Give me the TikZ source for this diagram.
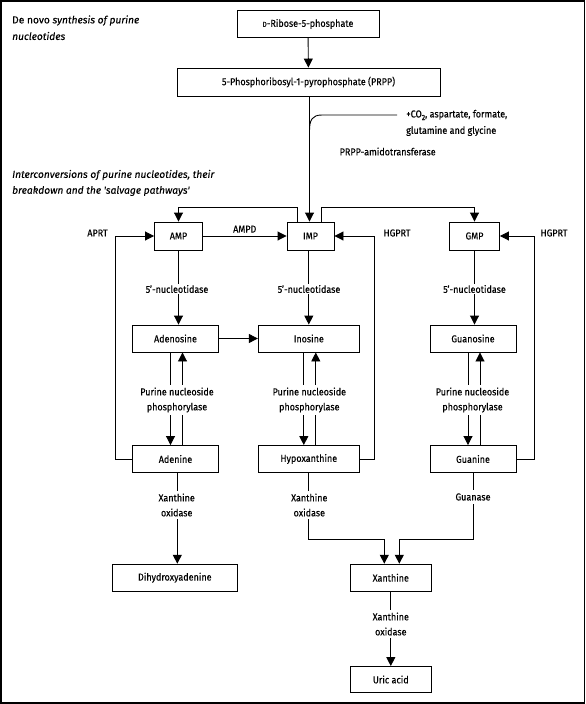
\documentclass[tikz,border=0pt]{standalone}
\usepackage{fontspec}
\setmainfont[FakeStretch=0.9,FakeBold=0.25]{Fira Sans}
\newfontfamily\hdfont[FakeBold=0.1]{Fira Sans}
\usetikzlibrary{arrows.meta}
\begin{document}
\begin{tikzpicture}[x=1pt,y=-1pt,
  every node/.style={font=\fontsize{10}{15}\selectfont},
  box/.style={draw, line width=0.9pt, inner sep=0pt, align=center},
  lab/.style={fill=white, inner sep=1.5pt, align=center},
  plain/.style={inner sep=0pt, align=left, anchor=west},
  hd/.style={plain, font=\hdfont\fontsize{10.2}{16}\selectfont},
  ln/.style={line width=0.9pt},
  arr/.style={line width=0.9pt, -{Triangle[length=9pt,width=9pt]}}]
\useasboundingbox (0,0) rectangle (586,704);
\draw[line width=1.6pt] (1,1) rectangle (584.5,703);

% texts
\node[hd] (t1) at (12,20.5) {De novo \textit{synthesis of purine}};
\node[hd] (t2) at (12,36) {\textit{nucleotides}};
\node[hd] (t3) at (12,175) {\textit{Interconversions of purine nucleotides, their}};
\node[hd] (t4) at (12,191) {\textit{breakdown and the 'salvage pathways'}};

% boxes
\node[box, minimum width=142pt, minimum height=27pt] (ribose) at (308,24) {{\fontsize{7.2}{8}\selectfont D}-Ribose-5-phosphate};
\node[box, minimum width=263pt, minimum height=28pt] (prpp) at (308.5,82) {5-Phosphoribosyl-1-pyrophosphate (PRPP)};
\node[box, minimum width=48pt, minimum height=28pt] (amp) at (178.5,236) {AMP};
\node[box, minimum width=47pt, minimum height=28pt] (imp) at (310.5,236) {IMP};
\node[box, minimum width=50pt, minimum height=28pt] (gmp) at (474.5,236) {GMP};
\node[box, minimum width=86pt, minimum height=27pt] (adenosine) at (175.5,338.5) {Adenosine};
\node[box, minimum width=101pt, minimum height=27pt] (inosine) at (308.8,338.5) {Inosine};
\node[box, minimum width=86pt, minimum height=27pt] (guanosine) at (473,338.5) {Guanosine};
\node[box, minimum width=86pt, minimum height=27pt] (adenine) at (175.5,459) {Adenine};
\node[box, minimum width=101pt, minimum height=27pt] (hypox) at (308.8,459) {Hypoxanthine};
\node[box, minimum width=86pt, minimum height=27pt] (guanine) at (473,459) {Guanine};
\node[box, minimum width=125pt, minimum height=27pt] (dihydroxy) at (174.8,577.7) {Dihydroxyadenine};
\node[box, minimum width=81pt, minimum height=27pt] (xanthine) at (390.8,577.7) {Xanthine};
\node[box, minimum width=81pt, minimum height=26pt] (uric) at (390.8,679.5) {Uric acid};

% top
\draw[arr] (ribose) -- (prpp);
\draw[arr] (prpp.south -| 309.5,0) -- (imp.north -| 309.5,0);
\coordinate (sub) at (397,115);
\draw[ln] (sub) -- (322,115) .. controls (312,115) and (309.5,120) .. (309.5,131);
\node[plain] (co2) at (406,115) {+CO\raisebox{-0.5ex}{\fontsize{7.5}{8}\selectfont 2}, aspartate, formate,};
\node[plain] (glu) at (406,131) {glutamine and glycine};
\node[plain] (amido) at (339.5,151.5) {PRPP-amidotransferase};

% IMP to AMP and GMP
\draw[arr] (imp.north -| 297.5,0) -- (297.5,207) -| (amp.north);
\draw[arr] (imp.north -| 321,0) -- (321,207) -| (gmp.north);
\draw[arr] (amp) -- node[above=3pt, inner sep=0pt] (ampd) {AMPD} (imp);

% salvage
\draw[arr] (adenine.west) -| (115.5,236) -- (amp.west);
\node (aprt) at (97.5,233) {APRT};
\draw[arr] (hypox.east) -| (374.5,236) -- (imp.east);
\node (hg1) at (397,233) {HGPRT};
\draw[arr] (guanine.east) -| (534.5,236) -- (gmp.east);
\node (hg2) at (554,233) {HGPRT};

% nucleotidase
\draw[arr] (amp.south) -- (amp.south |- adenosine.north);
\node[lab] (n1) at (177,289) {5'-nucleotidase};
\draw[arr] (imp.south -| inosine.north) -- (inosine.north);
\node[lab] (n2) at (309,289) {5'-nucleotidase};
\draw[arr] (gmp.south) -- (gmp.south |- guanosine.north);
\node[lab] (n3) at (474.5,289) {5'-nucleotidase};

\draw[arr] (adenosine.east) -- (inosine.west);

% PNP
\foreach \b/\c in {adenosine/adenine, inosine/hypox, guanosine/guanine}{
  \draw[arr] ([xshift=-5pt]\b.south) -- ([xshift=-5pt]\c.north);
  \draw[arr] ([xshift=7pt]\c.north) -- ([xshift=7pt]\b.south);
}
\node[lab, inner sep=3pt] (p1) at (177,400) {Purine nucleoside\\phosphorylase};
\node[lab, inner sep=3pt] (p2) at (309.3,400) {Purine nucleoside\\phosphorylase};
\node[lab, inner sep=3pt] (p3) at (472.5,400) {Purine nucleoside\\phosphorylase};

% breakdown
\draw[arr] (adenine.south -| 177.3,0) -- (dihydroxy.north -| 177.3,0);
\node[lab, inner sep=3pt] (xo1) at (176.7,505) {Xanthine\\oxidase};
\draw[arr] (hypox.south) |- (384.3,539.3) -- (xanthine.north -| 384.3,0);
\node[lab, inner sep=3pt] (xo2) at (309.3,505) {Xanthine\\oxidase};
\draw[arr] (guanine.south) |- (399.3,539.3) -- (xanthine.north -| 399.3,0);
\node[lab, inner sep=3pt] (gua) at (473,497) {Guanase};
\draw[arr] (xanthine) -- (uric);
\node[lab, inner sep=3pt] (xo3) at (390.8,624) {Xanthine\\oxidase};
\end{tikzpicture}
\end{document}
